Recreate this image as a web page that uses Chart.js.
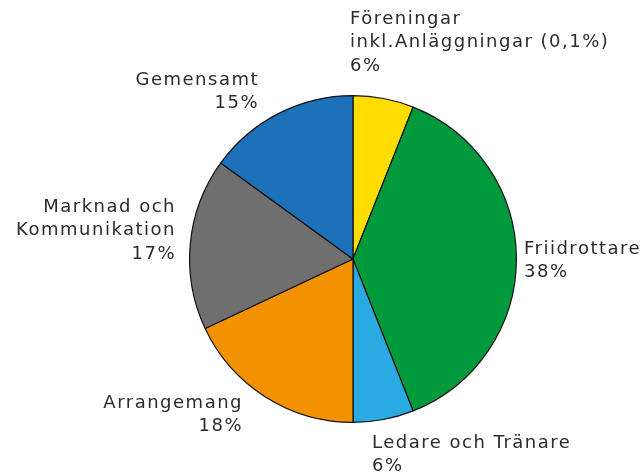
<!DOCTYPE html>
<html>
<head>
<meta charset="utf-8">
<script src="https://cdn.jsdelivr.net/npm/chart.js@4/dist/chart.umd.min.js"></script>
<style>
  html, body { margin: 0; padding: 0; background: #fff; }
  #wrap { width: 640px; height: 473px; position: relative; }
</style>
</head>
<body>
<div id="wrap"><canvas id="c" width="640" height="473"></canvas></div>
<script>
const categories = [
  ["Föreningar", "inkl.Anläggningar (0,1%)"],
  ["Friidrottare"],
  ["Ledare och Tränare"],
  ["Arrangemang"],
  ["Marknad och", "Kommunikation"],
  ["Gemensamt"]
];
const values = [6, 38, 6, 18, 17, 15];
const percentLabels = ["6%", "38%", "6%", "18%", "17%", "15%"];
const colors = ["#FFDD00", "#009A3D", "#29ABE2", "#F39200", "#706F6F", "#1D71B8"];

// label layout: offset of the text anchor from the pie centre, and alignment
const labelLayout = [
  { dx: -3,   dy: -240, align: "left"  },
  { dx: 171,  dy: -10,  align: "left"  },
  { dx: 19,   dy: 184,  align: "left"  },
  { dx: -110, dy: 144,  align: "right" },
  { dx: -177, dy: -52,  align: "right" },
  { dx: -94,  dy: -179, align: "right" }
];

const labelPlugin = {
  id: "outLabels",
  afterDraw(chart) {
    const ctx = chart.ctx;
    const meta = chart.getDatasetMeta(0);
    const arc0 = meta.data[0];
    const cx = arc0.x, cy = arc0.y;
    ctx.save();
    ctx.font = "18px 'DejaVu Sans'";
    ctx.letterSpacing = "1.5px";
    ctx.fillStyle = "#2b2b2b";
    ctx.textBaseline = "middle";
    const lh = 23.5;
    meta.data.forEach((arc, i) => {
      const lay = labelLayout[i];
      const lines = categories[i].concat([percentLabels[i]]);
      ctx.textAlign = lay.align;
      const x = cx + lay.dx;
      const yTop = cy + lay.dy;
      lines.forEach((t, k) => ctx.fillText(t, x, yTop + k * lh));
    });
    ctx.restore();
  }
};

new Chart(document.getElementById("c"), {
  type: "pie",
  data: {
    labels: categories.map(c => c.join(" ")),
    datasets: [{
      data: values,
      backgroundColor: colors,
      borderColor: "#111",
      borderWidth: 1.2
    }]
  },
  options: {
    responsive: false,
    animation: false,
    layout: { padding: { top: 95, bottom: 50, left: 189, right: 123 } },
    plugins: { legend: { display: false }, tooltip: { enabled: false } }
  },
  plugins: [labelPlugin]
});
</script>
</body>
</html>
